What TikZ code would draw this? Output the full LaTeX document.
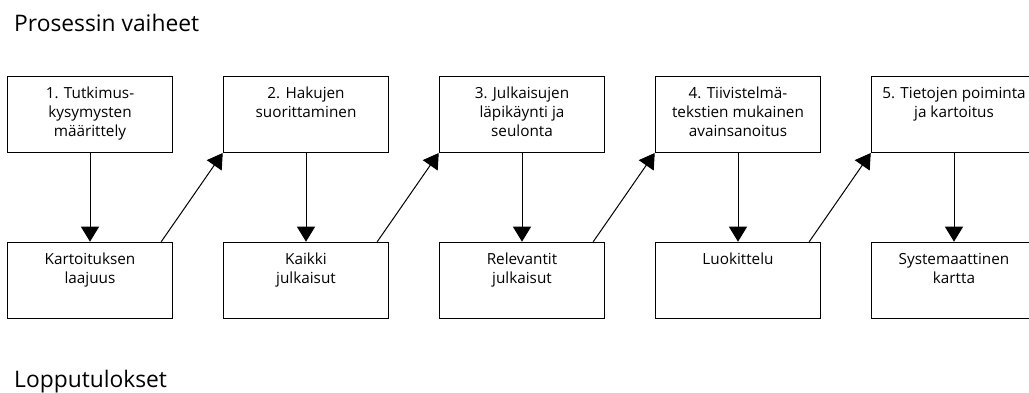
\documentclass[tikz,border=0pt]{standalone}
\usepackage{fontspec}
\setmainfont{Open Sans}
\usetikzlibrary{arrows.meta}
\newcommand\bxtext[1]{\parbox[t][76pt][t]{165pt}{\centering\rule{0pt}{22pt}#1\par}}
\tikzset{
  stepbox/.style={draw=black, line width=1pt, inner sep=0pt, minimum width=165.5pt, minimum height=76pt,
    font=\fontsize{15.3}{19}\selectfont},
  arr/.style={line width=1pt, -{Triangle[length=15pt,width=18pt]}},
  title/.style={anchor=base west, inner sep=0pt, font=\fontsize{22.8}{27}\selectfont}
}
\begin{document}
\begin{tikzpicture}[x=1pt,y=-1pt]
\useasboundingbox (0,0) rectangle (1029,392);
\node[title] (h1) at (14,31.7) {Prosessin vaiheet};
\node[title] (h2) at (14,387) {Lopputulokset};
% top boxes
\node[stepbox] (b1) at (90,114.5) {\bxtext{1. Tutkimus-\\kysymysten\\määrittely}};
\node[stepbox] (b2) at (306,114.5) {\bxtext{2. Hakujen\\suorittaminen}};
\node[stepbox] (b3) at (522,114.5) {\bxtext{3. Julkaisujen\\läpikäynti ja\\seulonta}};
\node[stepbox] (b4) at (738,114.5) {\bxtext{4. Tiivistelmä-\\tekstien mukainen\\avainsanoitus}};
\node[stepbox] (b5) at (954,114.5) {\bxtext{5. Tietojen poiminta\\ja kartoitus}};
% bottom boxes
\node[stepbox] (r1) at (90,280.2) {\bxtext{Kartoituksen\\laajuus}};
\node[stepbox] (r2) at (306,280.2) {\bxtext{Kaikki\\julkaisut}};
\node[stepbox] (r3) at (522,280.2) {\bxtext{Relevantit\\julkaisut}};
\node[stepbox] (r4) at (738,280.2) {\bxtext{Luokittelu}};
\node[stepbox] (r5) at (954,280.2) {\bxtext{Systemaattinen\\kartta}};
% vertical arrows
\foreach \i in {1,...,5} \draw[arr] (b\i.south) -- (r\i.north);
% diagonal arrows
\foreach \i/\j in {1/2,2/3,3/4,4/5} \draw[arr] ([xshift=-12pt]r\i.north east) -- (b\j.south west);
\end{tikzpicture}
\end{document}
